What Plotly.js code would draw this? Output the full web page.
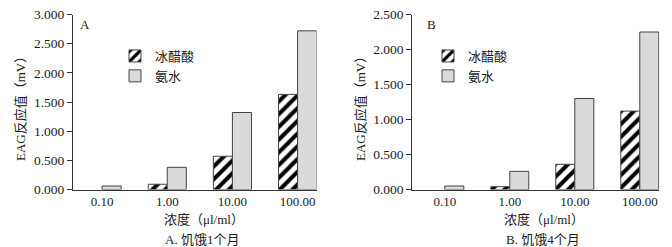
<!DOCTYPE html>
<html>
<head>
<meta charset="utf-8">
<script src="https://cdn.plot.ly/plotly-3.0.1.min.js"></script>
<style>html,body{margin:0;padding:0;background:#fff;}#chart{width:672px;height:247px;}</style>
</head>
<body>
<div id="chart"></div>
<script>
// Data (null = no visible bar)
const categories = ["0.10", "1.00", "10.00", "100.00"];
const aceticA = [null, 0.09, 0.57, 1.63];  // 冰醋酸, 饥饿1个月
const ammoniaA = [0.06, 0.38, 1.32, 2.72]; // 氨水, 饥饿1个月
const aceticB = [null, 0.04, 0.36, 1.12];  // 冰醋酸, 饥饿4个月
const ammoniaB = [0.05, 0.26, 1.30, 2.25]; // 氨水, 饥饿4个月
const seriesNames = ["冰醋酸", "氨水"];
const yTicksA = [0, 0.5, 1.0, 1.5, 2.0, 2.5, 3.0];
const yTicksB = [0, 0.5, 1.0, 1.5, 2.0, 2.5];

const FONT = "'Liberation Serif', 'Times New Roman', 'Noto Sans CJK SC', serif";
const TXT = "#1a1a1a";
const W = 672, H = 247;
const px = v => v / W;
const py = v => 1 - v / H;

const hatch = {
  color: "#ffffff",
  line: {color: "#444", width: 1},
  pattern: {shape: "/", fgcolor: "#000", bgcolor: "#fff", size: 9, solidity: 0.45}
};
const grey = {color: "#dadada", line: {color: "#444", width: 1}};

const traces = [
  {type: "bar", name: seriesNames[0], x: categories, y: aceticA, marker: hatch, xaxis: "x", yaxis: "y", legend: "legend"},
  {type: "bar", name: seriesNames[1], x: categories, y: ammoniaA, marker: grey, xaxis: "x", yaxis: "y", legend: "legend"},
  {type: "bar", name: seriesNames[0], x: categories, y: aceticB, marker: hatch, xaxis: "x2", yaxis: "y2", legend: "legend2"},
  {type: "bar", name: seriesNames[1], x: categories, y: ammoniaB, marker: grey, xaxis: "x2", yaxis: "y2", legend: "legend2"}
];

const xAxisBase = {
  type: "category", showline: true, linecolor: "#333", linewidth: 1,
  ticks: "", showgrid: false, zeroline: false,
  tickfont: {family: FONT, size: 13, color: TXT}, fixedrange: true
};
const yAxisBase = {
  showline: true, linecolor: "#333", linewidth: 1, ticks: "outside", ticklen: 5,
  tickcolor: "#333", tickformat: ".3f", showgrid: false, zeroline: false,
  tickfont: {family: FONT, size: 13.5, color: TXT}, fixedrange: true
};
const yDomain = [py(189.5), py(14.5)];

const legendBase = {
  font: {family: FONT, size: 13, color: TXT},
  bgcolor: "rgba(0,0,0,0)", borderwidth: 0, xanchor: "left", yanchor: "top",
  tracegroupgap: 0, traceorder: "normal", itemclick: false
};

const layout = {
  width: W, height: H,
  margin: {l: 0, r: 0, t: 0, b: 0},
  paper_bgcolor: "#fff", plot_bgcolor: "#fff",
  barmode: "group", bargap: 0.415, bargroupgap: 0,
  xaxis: Object.assign({}, xAxisBase, {domain: [px(73), px(316.5)], range: [-0.446, 3.29], anchor: "y"}),
  yaxis: Object.assign({}, yAxisBase, {domain: yDomain, range: [0, 3.0], tickvals: yTicksA, anchor: "x"}),
  xaxis2: Object.assign({}, xAxisBase, {domain: [px(412.3), px(659.3)], range: [-0.5, 3.3], anchor: "y2"}),
  yaxis2: Object.assign({}, yAxisBase, {domain: yDomain, range: [0, 2.5], tickvals: yTicksB, anchor: "x2"}),
  legend: Object.assign({}, legendBase, {x: px(115), y: py(41)}),
  legend2: Object.assign({}, legendBase, {x: px(428), y: py(41)}),
  showlegend: true,
  annotations: [
    {text: "A", x: px(85), y: py(24), xref: "paper", yref: "paper", showarrow: false, xanchor: "center", yanchor: "middle", font: {family: FONT, size: 13, color: TXT}},
    {text: "B", x: px(431), y: py(24), xref: "paper", yref: "paper", showarrow: false, xanchor: "center", yanchor: "middle", font: {family: FONT, size: 13, color: TXT}},
    {text: "EAG反应值（mV）", x: px(20), y: py(106), xref: "paper", yref: "paper", showarrow: false, textangle: -90, xanchor: "center", yanchor: "middle", font: {family: FONT, size: 13, color: TXT}},
    {text: "EAG反应值（mV）", x: px(360), y: py(106), xref: "paper", yref: "paper", showarrow: false, textangle: -90, xanchor: "center", yanchor: "middle", font: {family: FONT, size: 13, color: TXT}},
    {text: "浓度（μl/ml）", x: px(204), y: py(219), xref: "paper", yref: "paper", showarrow: false, xanchor: "center", yanchor: "middle", font: {family: FONT, size: 13, color: TXT}},
    {text: "浓度（μl/ml）", x: px(544), y: py(219), xref: "paper", yref: "paper", showarrow: false, xanchor: "center", yanchor: "middle", font: {family: FONT, size: 13, color: TXT}},
    {text: "A. 饥饿1个月", x: px(202), y: py(239), xref: "paper", yref: "paper", showarrow: false, xanchor: "center", yanchor: "middle", font: {family: FONT, size: 13, color: TXT}},
    {text: "B. 饥饿4个月", x: px(543), y: py(239), xref: "paper", yref: "paper", showarrow: false, xanchor: "center", yanchor: "middle", font: {family: FONT, size: 13, color: TXT}}
  ]
};

Plotly.newPlot("chart", traces, layout, {displayModeBar: false, staticPlot: true});
</script>
</body>
</html>
